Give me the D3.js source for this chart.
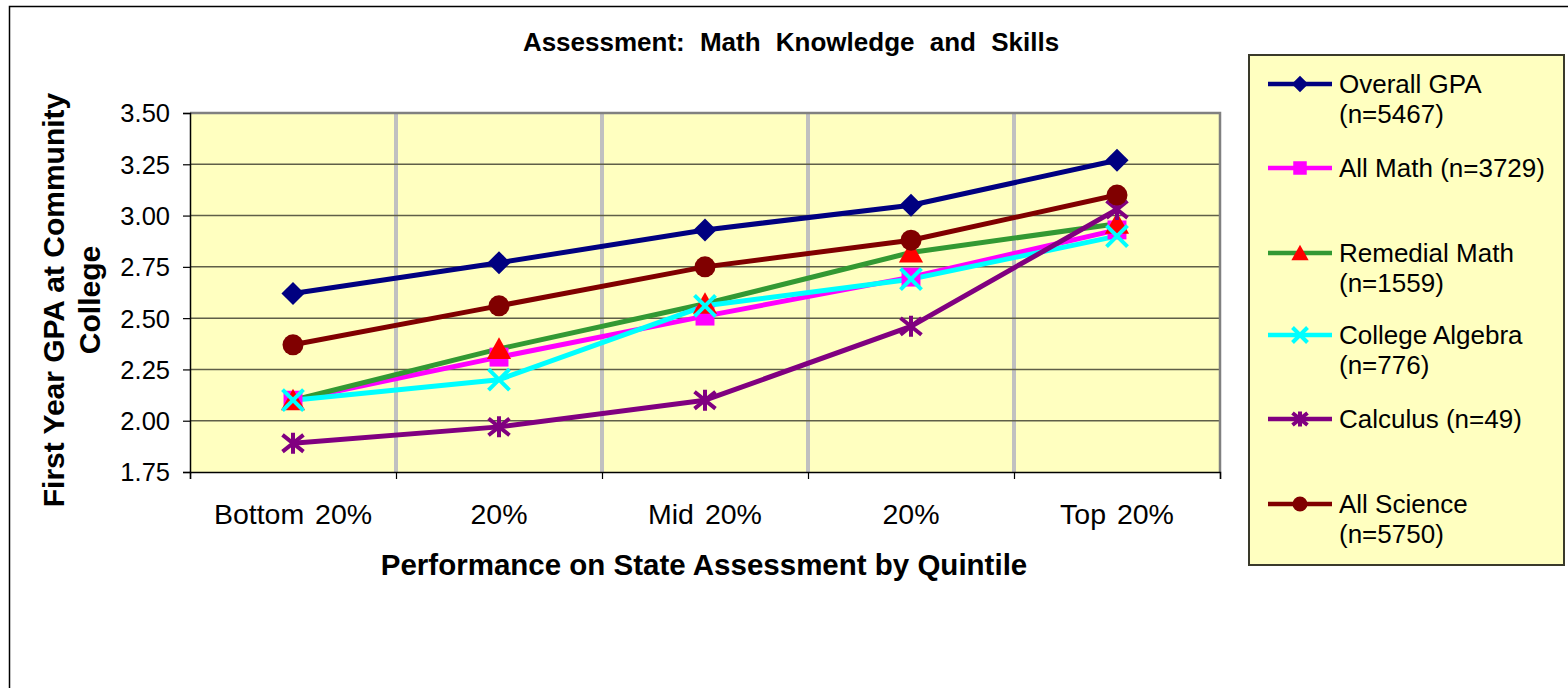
<!DOCTYPE html>
<html><head><meta charset="utf-8">
<script src="https://cdn.jsdelivr.net/npm/d3@7"></script>
<style>body{margin:0;background:#fff}svg{display:block}text{font-family:"Liberation Sans",Arial,sans-serif}</style>
</head><body>
<svg id="c" width="1568" height="688"></svg>
<script>
const categories = ["Bottom 20%", "20%", "Mid 20%", "20%", "Top 20%"];
const yTicks = [1.75, 2.00, 2.25, 2.50, 2.75, 3.00, 3.25, 3.50];
const overallGPA     = [2.62, 2.77, 2.93, 3.05, 3.27];
const allMath        = [2.10, 2.31, 2.51, 2.70, 2.93];
const remedialMath   = [2.10, 2.35, 2.57, 2.82, 2.96];
const collegeAlgebra = [2.10, 2.20, 2.56, 2.69, 2.90];
const calculus       = [1.89, 1.97, 2.10, 2.46, 3.03];
const allScience     = [2.37, 2.56, 2.75, 2.88, 3.10];
const seriesNames = ["Overall GPA (n=5467)", "All Math (n=3729)", "Remedial Math (n=1559)", "College Algebra (n=776)", "Calculus (n=49)", "All Science (n=5750)"];
const legendLabels = [["Overall GPA", "(n=5467)"], ["All Math (n=3729)"], ["Remedial Math", "(n=1559)"], ["College Algebra", "(n=776)"], ["Calculus (n=49)"], ["All Science", "(n=5750)"]];

const series = [
  {name: seriesNames[0], values: overallGPA, line: "#000080", fill: "#000080", marker: "diamond"},
  {name: seriesNames[1], values: allMath, line: "#FF00FF", fill: "#FF00FF", marker: "square"},
  {name: seriesNames[2], values: remedialMath, line: "#339933", fill: "#FF0000", marker: "triangle"},
  {name: seriesNames[3], values: collegeAlgebra, line: "#00FFFF", fill: "#00FFFF", marker: "x"},
  {name: seriesNames[4], values: calculus, line: "#800080", fill: "#800080", marker: "star"},
  {name: seriesNames[5], values: allScience, line: "#800000", fill: "#800000", marker: "circle"}
];

const svg = d3.select("#c");
const L = 190, R = 1220, T = 113, B = 472;
const x = d3.scaleBand().domain(d3.range(categories.length)).range([L, R]).padding(0);
const y = d3.scaleLinear().domain([1.75, 3.5]).range([B, T]);
const cx = i => x(i) + x.bandwidth() / 2;

// outer frame
svg.append("rect").attr("x", 9.5).attr("y", 6.5).attr("width", 1570).attr("height", 700)
  .attr("fill", "#fff").attr("stroke", "#000").attr("stroke-width", 1.5);

// plot background
svg.append("rect").attr("x", L).attr("y", T).attr("width", R - L).attr("height", B - T).attr("fill", "#FFFFC0");

// vertical gridlines (category boundaries)
svg.append("g").selectAll("line").data(d3.range(1, categories.length)).join("line")
  .attr("x1", i => x(i)).attr("x2", i => x(i)).attr("y1", T).attr("y2", B)
  .attr("stroke", "#C0C0C0").attr("stroke-width", 4);

// horizontal gridlines
svg.append("g").selectAll("line").data(yTicks.filter(v => v > 1.75 && v < 3.5)).join("line")
  .attr("x1", L).attr("x2", R).attr("y1", d => y(d)).attr("y2", d => y(d))
  .attr("stroke", "#5f5f48").attr("stroke-width", 1.5);

// plot border top/right gray
svg.append("path").attr("d", `M${L},${T}H${R}V${B}`).attr("fill", "none").attr("stroke", "#808080").attr("stroke-width", 2.5);

// y axis
const yAxis = d3.axisLeft(y).tickValues(yTicks).tickFormat(d3.format(".2f")).tickSize(7).tickPadding(13);
const gy = svg.append("g").attr("transform", `translate(${L},0)`).call(yAxis);
gy.select(".domain").attr("stroke", "#000").attr("stroke-width", 1.5);
gy.selectAll(".tick line").attr("stroke", "#000").attr("stroke-width", 1.2);
gy.selectAll("text").attr("font-size", 25.5).attr("fill", "#000").attr("dy", "0.35em");

// x axis
const xAxis = d3.axisBottom(d3.scaleLinear().domain([0, categories.length]).range([L, R]))
  .tickValues(d3.range(0, categories.length + 1)).tickFormat("").tickSize(7);
const gx = svg.append("g").attr("transform", `translate(0,${B})`).call(xAxis);
gx.select(".domain").attr("stroke", "#000").attr("stroke-width", 1.5);
gx.selectAll(".tick line").attr("stroke", "#000").attr("stroke-width", 1.2);
svg.append("g").selectAll("text").data(categories).join("text")
  .attr("x", (d, i) => cx(i)).attr("y", 524).attr("text-anchor", "middle")
  .attr("font-size", 28.5).attr("fill", "#000").style("word-spacing", "3px").text(d => d);

// titles
svg.append("text").attr("x", 791).attr("y", 51).attr("text-anchor", "middle")
  .attr("font-size", 26).attr("font-weight", "bold").style("word-spacing", "8px")
  .text("Assessment: Math Knowledge and Skills");
svg.append("text").attr("x", 704).attr("y", 575).attr("text-anchor", "middle")
  .attr("font-size", 29.5).attr("font-weight", "bold")
  .text("Performance on State Assessment by Quintile");
const ylab = svg.append("text").attr("transform", "translate(64,300) rotate(-90)")
  .attr("text-anchor", "middle").attr("font-size", 30).attr("font-weight", "bold");
ylab.append("tspan").attr("x", 0).attr("dy", 0).text("First Year GPA at Community");
ylab.append("tspan").attr("x", 0).attr("dy", 36).text("College");

// marker drawing
function drawMarker(g, type, fill, s) {
  if (type === "diamond") {
    g.append("path").attr("d", `M0,${-s * 1.1}L${s * 1.1},0L0,${s * 1.1}L${-s * 1.1},0Z`).attr("fill", fill);
  } else if (type === "square") {
    g.append("rect").attr("x", -s * 0.9).attr("y", -s * 0.9).attr("width", s * 1.8).attr("height", s * 1.8).attr("fill", fill);
  } else if (type === "triangle") {
    g.append("path").attr("d", `M0,${-s * 1.1}L${s * 1.15},${s * 0.95}L${-s * 1.15},${s * 0.95}Z`).attr("fill", fill);
  } else if (type === "circle") {
    g.append("circle").attr("r", s).attr("fill", fill);
  } else if (type === "x") {
    g.append("path").attr("d", `M${-s},${-s}L${s},${s}M${s},${-s}L${-s},${s}`).attr("stroke", fill).attr("stroke-width", 4);
  } else if (type === "star") {
    g.append("path").attr("d", `M${-s},${-s * 0.8}L${s},${s * 0.8}M${s},${-s * 0.8}L${-s},${s * 0.8}M0,${-s}V${s}`)
      .attr("stroke", fill).attr("stroke-width", 4);
  }
}

const line = d3.line().x((d, i) => cx(i)).y(d => y(d));
const plot = svg.append("g");
series.forEach(s => {
  plot.append("path").datum(s.values).attr("d", line).attr("fill", "none")
    .attr("stroke", s.line).attr("stroke-width", 5).attr("stroke-linejoin", "round");
});
series.forEach(s => {
  s.values.forEach((v, i) => {
    const g = plot.append("g").attr("transform", `translate(${cx(i)},${y(v)})`);
    drawMarker(g, s.marker, s.fill, 10.5);
  });
});

// legend
const lg = svg.append("g");
lg.append("rect").attr("x", 1249).attr("y", 55).attr("width", 315).attr("height", 510)
  .attr("fill", "#FFFFC0").attr("stroke", "#3a3a2a").attr("stroke-width", 2);
const legendY = [84, 168, 253, 335, 419, 504];
series.forEach((s, k) => {
  const yy = legendY[k];
  lg.append("line").attr("x1", 1268).attr("x2", 1332).attr("y1", yy).attr("y2", yy)
    .attr("stroke", s.line).attr("stroke-width", 4.5);
  const g = lg.append("g").attr("transform", `translate(1300,${yy})`);
  drawMarker(g, s.marker, s.fill, 7.5);
  const t = lg.append("text").attr("x", 1339).attr("y", yy + 9).attr("font-size", 26).attr("fill", "#000");
  legendLabels[k].forEach((ln, j) => t.append("tspan").attr("x", 1339).attr("dy", j === 0 ? 0 : 30).text(ln));
});
</script>
</body></html>
